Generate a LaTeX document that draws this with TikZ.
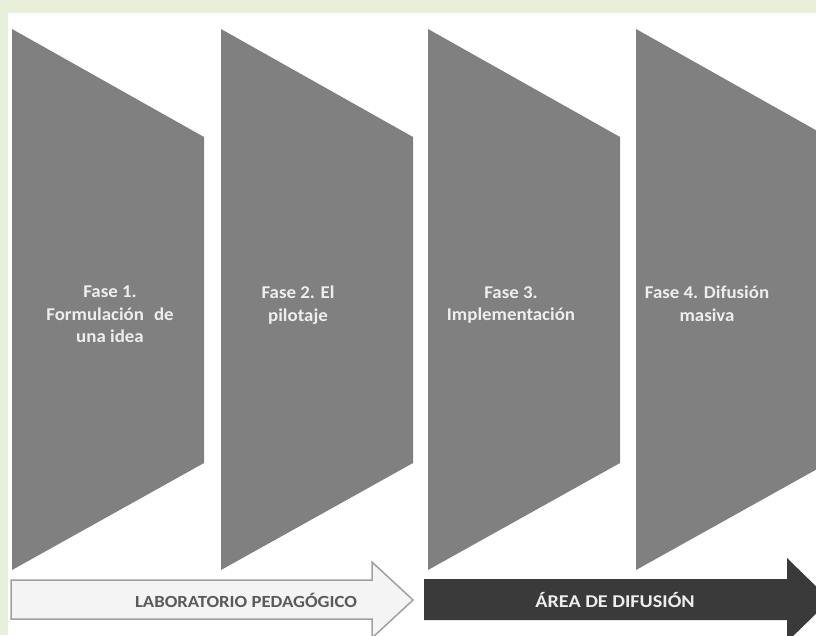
\documentclass[tikz,border=0pt]{standalone}
\usepackage{fontspec}
\setmainfont{Carlito}
\newfontfamily\phasefont[FakeStretch=1.05]{Carlito}
\newfontfamily\labfont[FakeStretch=1.1]{Carlito}
\newfontfamily\diffont[FakeStretch=1.12]{Carlito}
\definecolor{bggreen}{HTML}{E8F0DC}
\definecolor{phasegray}{HTML}{808080}
\definecolor{phasetext}{HTML}{EEEEEE}
\definecolor{lightfill}{HTML}{F4F4F4}
\definecolor{lightedge}{HTML}{A0A0A0}
\definecolor{darkfill}{HTML}{3A3A3A}
\definecolor{labtext}{HTML}{5A5A5A}
\begin{document}
\begin{tikzpicture}[x=1pt,y=-1pt,
  phase/.style={fill=phasegray,draw=none},
  phaselabel/.style={text=phasetext,font=\phasefont\bfseries\fontsize{18}{22.5}\selectfont,align=center,anchor=north,inner sep=0pt},
  arrowlabel/.style={inner sep=0pt}]
\useasboundingbox (0,0) rectangle (816,635);
\clip (0,0) rectangle (816,635);
\fill[bggreen] (0,0) rectangle (816,635);
\fill[white] (8,13) rectangle (816,635);
% phases
\foreach \x in {12,221,428,636}{
  \fill[phase] (\x,29) -- (\x+192,137) -- (\x+192,463) -- (\x,570) -- cycle;
}
\node[phaselabel] (p1) at (110,286) {Fase 1.\\Formulación\hspace{10pt}de\\una idea};
\node[phaselabel] (p2) at (298,286) {Fase 2. El\\pilotaje};
\node[phaselabel] (p3) at (511,286) {Fase 3.\\Implementación};
\node[phaselabel] (p4) at (707,286) {Fase 4. Difusión\\masiva};
% arrows
\draw[fill=lightfill,draw=lightedge,line width=1.5pt,line join=miter]
  (11,580) -- (372,580) -- (372,562) -- (413,600) -- (372,638) -- (372,619) -- (11,619) -- cycle;
\fill[darkfill] (424,579) -- (787,579) -- (787,558) -- (830,600) -- (787,642) -- (787,620) -- (424,620) -- cycle;
\node[arrowlabel,text=labtext,font=\labfont\bfseries\fontsize{17}{20}\selectfont] (lab) at (246,600) {LABORATORIO PEDAGÓGICO};
\node[arrowlabel,text=phasetext,font=\diffont\bfseries\fontsize{18}{20}\selectfont] (dif) at (615,600) {ÁREA DE DIFUSIÓN};
\end{tikzpicture}
\end{document}
